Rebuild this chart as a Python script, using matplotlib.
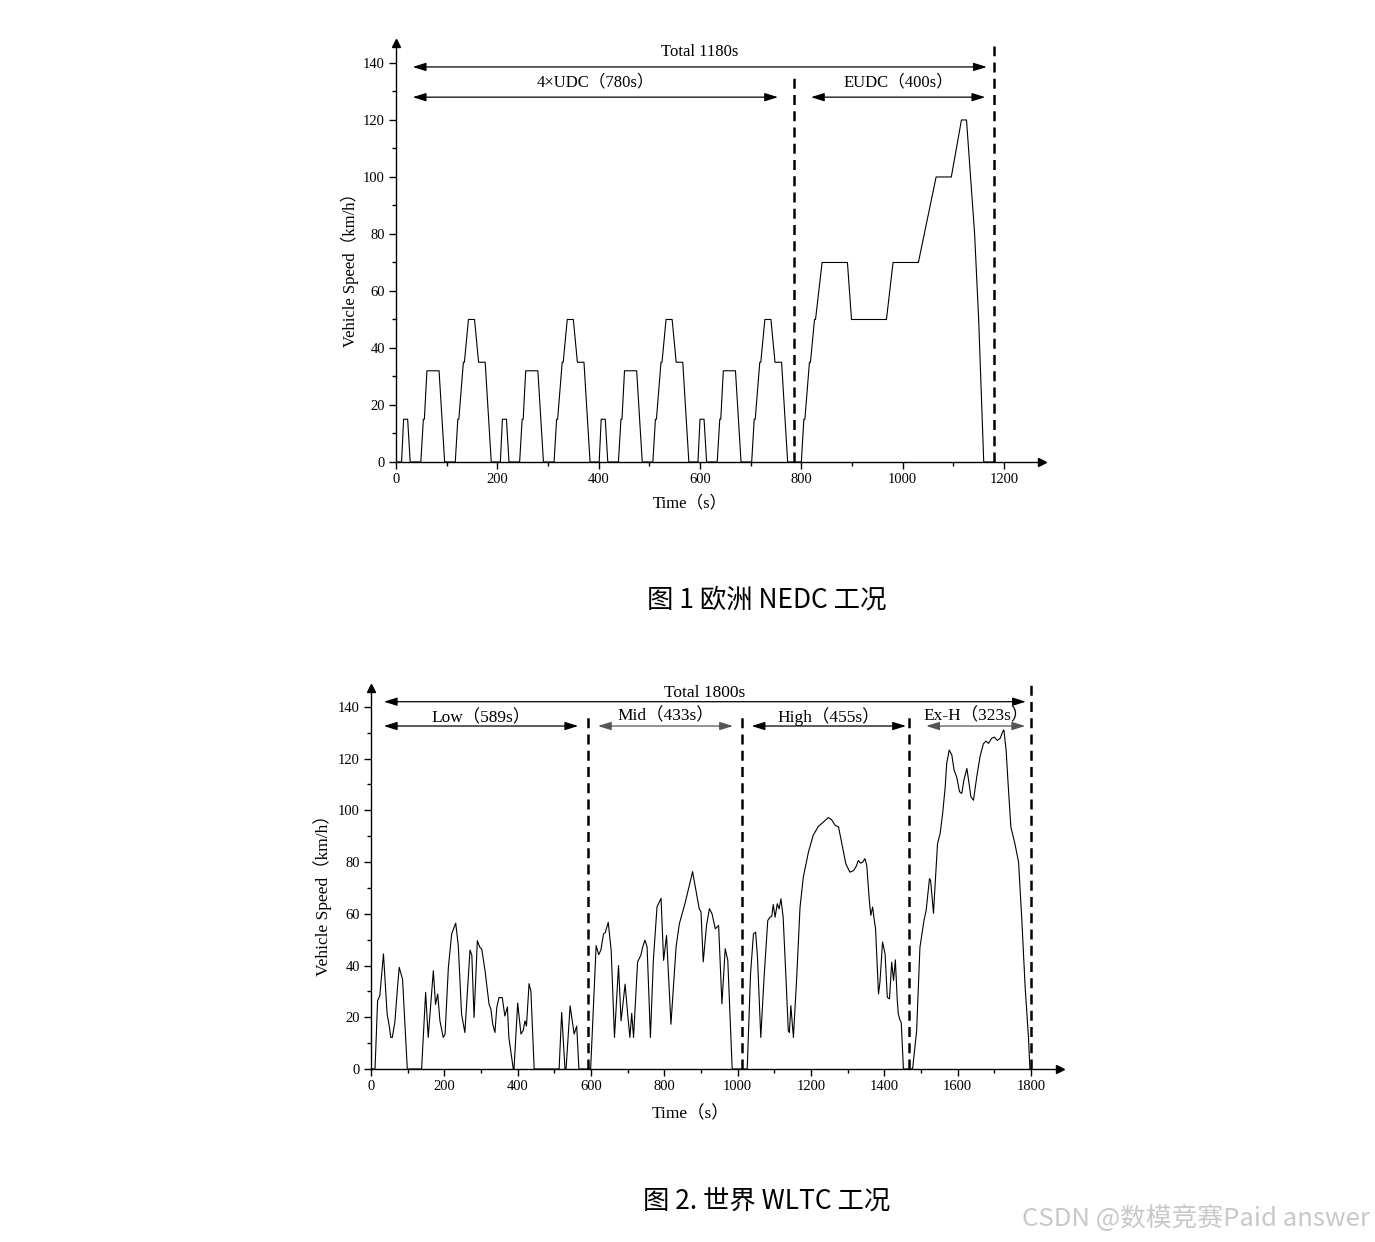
import matplotlib.pyplot as plt
import numpy as np

plt.rcParams['font.family'] = ['Liberation Serif', 'Noto Sans CJK SC']

# NEDC: one urban (UDC) cycle, repeated 4 times, then the extra-urban part
udc_time = [0, 11, 15, 23, 28, 49, 54, 56, 61, 85, 96, 117, 122, 124, 133, 135, 143, 155, 163, 176, 188, 195]
udc_speed = [0, 0, 15, 15, 0, 0, 15, 15, 32, 32, 0, 0, 15, 15, 35, 35, 50, 50, 35, 35, 0, 0]
eudc_time = [0, 20, 25, 27, 36, 38, 46, 48, 61, 111, 119, 188, 201, 251, 286, 316, 336, 346, 362, 370, 380, 400]
eudc_speed = [0, 0, 15, 15, 35, 35, 50, 50, 70, 70, 50, 50, 70, 70, 100, 100, 120, 120, 80, 50, 0, 0]

# WLTC speed trace
wltc_time = [0, 11, 18, 24, 34, 44, 49, 54, 58, 65, 73, 77, 86, 99, 138, 149, 156, 170, 176, 182,
             188, 197, 202, 211, 220, 231, 238, 247, 256, 270, 275, 281, 290, 297, 302, 311, 322,
             327, 332, 338, 343, 349, 358, 365, 372, 376, 388, 390, 400, 409, 415, 420, 424, 431,
             436, 445, 513, 520, 529, 532, 543, 549, 554, 561, 567, 599,
             614, 621, 627, 634, 639, 647, 655, 664, 675, 682, 693, 700, 706, 711, 716, 727, 736,
             741, 747, 753, 762, 770, 780, 791, 798, 806, 818, 832, 841, 855, 865, 877, 886, 895,
             900, 906, 915, 923, 930, 939, 948, 957, 966, 973, 985, 1026,
             1035, 1043, 1049, 1054, 1063, 1072, 1082, 1088, 1093, 1097, 1102, 1108, 1113, 1118,
             1124, 1132, 1138, 1141, 1145, 1152, 1161, 1170, 1179, 1193, 1206, 1220, 1234, 1247,
             1256, 1266, 1275, 1284, 1295, 1306, 1316, 1323, 1329, 1335, 1341, 1347, 1352, 1359,
             1363, 1368, 1372, 1376, 1384, 1388, 1395, 1402, 1408, 1414, 1420, 1425, 1430, 1435,
             1438, 1443, 1446, 1452, 1477,
             1488, 1497, 1508, 1514, 1523, 1526, 1534, 1538, 1545, 1552, 1559, 1566, 1570, 1577,
             1584, 1590, 1597, 1605, 1611, 1617, 1625, 1631, 1636, 1643, 1652, 1661, 1670, 1677,
             1684, 1693, 1700, 1708, 1716, 1723, 1726, 1732, 1738, 1745, 1756, 1766, 1775, 1784,
             1793, 1797, 1800]
wltc_speed = [0, 0, 26.4, 28.3, 44.5, 21.2, 17.3, 12.2, 12.2, 18, 32.8, 39.3, 34.7, 0, 0, 29.6, 12.2, 38, 25, 29,
              18.6, 12.2, 13.5, 39.3, 52.2, 56.4, 47.7, 21.2, 14.1, 46, 44, 19.9, 49.6, 47, 46.4, 38, 25,
              23.1, 17.3, 14.1, 23.8, 27.6, 27.6, 20.5, 24, 12.2, 0, 0, 25.5, 13.5, 14.9, 18.6, 16.6, 33,
              30.2, 0, 0, 21.9, 0, 0, 24.4, 18.6, 13.5, 16.6, 0, 0,
              47.7, 44.2, 46, 52.2, 52.8, 56.7, 45.8, 12.2, 40, 18.6, 32.8, 21.2, 12.2, 21.5, 12.2, 41.4, 44,
              47.2, 49.8, 47.2, 12.2, 42, 62.7, 66, 42, 51.6, 17.3, 47.2, 56.2, 63.3, 69.1, 76.3, 69.1, 62,
              60.7, 41.4, 55.5, 62, 60, 54.2, 55.5, 25.2, 46.5, 42, 0, 0,
              36.7, 52.2, 52.9, 43.2, 12.2, 35.5, 57.4, 58.7, 59, 63.6, 58.7, 63.9, 61.9, 65.8,
              58.7, 34.2, 14.8, 14.1, 24.5, 12.2, 35.5, 62.5, 74.2, 83.9, 90.4, 93.8, 95.5, 97.2,
              96.4, 94.2, 93.6, 87.1, 79.3, 76.1, 76.7, 78.3, 80.6, 79.6, 80, 81.3, 78.7, 65.2,
              59.4, 62.6, 58.1, 54.2, 29, 33.6, 49.1, 44.5, 27.7, 27.1, 41.3, 34.2, 42.2, 27.1,
              21.3, 18.7, 18, 0, 0,
              14.7, 47, 57.4, 61.3, 73.6, 73, 60.2, 70.3, 87.1, 91, 98.8, 109.2, 118.2, 123.3,
              121.4, 115.6, 113, 107.2, 106.5, 111.7, 116.2, 110.4, 105.2, 103.9, 113, 120.8, 125.7, 126.8,
              125.9, 127.9, 128.3, 127, 127.9, 130.5, 131.1, 123.3, 109.1, 93.6, 87.1, 80, 57.4, 31.5,
              12.2, 0, 0]

# phase annotations: (label, start, end)
nedc_phases = [('4×UDC（780s）', 33, 754), ('EUDC（400s）', 819, 1163)]
nedc_total = ('Total 1180s', 33, 1166)
nedc_bounds = [785, 1180]
wltc_phases = [('Low（589s）', 35, 565), ('Mid（433s）', 619, 987),
               ('High（455s）', 1038, 1459), ('Ex-H（323s）', 1514, 1784)]
wltc_total = ('Total 1800s', 35, 1786)
wltc_bounds = [592, 1012, 1466, 1800]

nedc_t = []
nedc_v = []
for k in range(4):
    nedc_t += [t + 195 * k for t in udc_time]
    nedc_v += udc_speed
nedc_t += [t + 780 for t in eudc_time]
nedc_v += eudc_speed

W, H = 1375, 1242
fig = plt.figure(figsize=(W / 100, H / 100), dpi=100)


def style_axis(ax, xmax, ymax, xticks):
    ax.set_xlim(0, xmax)
    ax.set_ylim(0, ymax)
    for s in ['top', 'right']:
        ax.spines[s].set_visible(False)
    ax.spines['left'].set_linewidth(1.0)
    ax.spines['bottom'].set_linewidth(1.0)
    ax.set_xticks(xticks)
    ax.set_xticks(np.arange(100, xticks[-1] + 1, 200), minor=True)
    ax.set_yticks(np.arange(0, 141, 20))
    ax.set_yticks(np.arange(10, 140, 20), minor=True)
    ax.tick_params(which='major', direction='out', length=5, width=1, labelsize=10.5, pad=3)
    ax.tick_params(which='minor', direction='out', length=3, width=1)
    ax.plot(1, 0, '>k', ms=6, transform=ax.get_yaxis_transform(), clip_on=False)
    ax.plot(0, 1, '^k', ms=6, transform=ax.get_xaxis_transform(), clip_on=False)


def arrow(ax, x0, x1, y, color='black'):
    ax.annotate('', xy=(x1, y), xytext=(x0, y),
                arrowprops=dict(arrowstyle='<|-|>,head_length=0.8,head_width=0.25',
                                color=color, lw=0.9, shrinkA=0, shrinkB=0))


# ---- NEDC ----
ax1 = fig.add_axes([396 / W, 1 - 462 / H, 646 / W, 419 / H])
style_axis(ax1, 1275, 147, np.arange(0, 1201, 200))
ax1.plot(nedc_t, nedc_v, color='black', lw=0.8)
ax1.vlines(nedc_bounds[0], 0, 136, colors='black', linestyles=(0, (4, 2.5)), lw=1.8)
ax1.vlines(nedc_bounds[1], 0, 146, colors='black', linestyles=(0, (4, 2.5)), lw=1.8, clip_on=False)
arrow(ax1, nedc_total[1], nedc_total[2], 138.6)
ax1.text((nedc_total[1] + nedc_total[2]) / 2, 144, nedc_total[0], ha='center', va='center', fontsize=12)
for (lab, a, b) in nedc_phases:
    arrow(ax1, a, b, 128)
    ax1.text((a + b) / 2, 133, lab, ha='center', va='center', fontsize=12)
ax1.text(0.455, -0.1, 'Time（s）', transform=ax1.transAxes, ha='center', va='center', fontsize=12)
ax1.text(-0.071, 0.468, 'Vehicle Speed（km/h）', transform=ax1.transAxes, ha='center', va='center',
         rotation=90, fontsize=12)

# ---- WLTC ----
ax2 = fig.add_axes([371 / W, 1 - 1069 / H, 689 / W, 381 / H])
style_axis(ax2, 1879, 147.3, np.arange(0, 1801, 200))
ax2.plot(wltc_time, wltc_speed, color='black', lw=0.8)
for b in wltc_bounds[:-1]:
    ax2.vlines(b, 0, 137.5, colors='black', linestyles=(0, (4, 2.5)), lw=1.8)
ax2.vlines(wltc_bounds[-1], 0, 149.5, colors='black', linestyles=(0, (4, 2.5)), lw=1.8, clip_on=False)
arrow(ax2, wltc_total[1], wltc_total[2], 142)
ax2.text((wltc_total[1] + wltc_total[2]) / 2, 145.5, wltc_total[0], ha='center', va='center', fontsize=12.5)
for i, (lab, a, b) in enumerate(wltc_phases):
    arrow(ax2, a, b, 132.6, color='black' if i % 2 == 0 else '#555555')
    ax2.text((a + b) / 2, 135.6 if i == 0 else 136.4, lab, ha='center', va='center', fontsize=12.5)
ax2.text(0.463, -0.118, 'Time（s）', transform=ax2.transAxes, ha='center', va='center', fontsize=12.5)
ax2.text(-0.071, 0.467, 'Vehicle Speed（km/h）', transform=ax2.transAxes, ha='center', va='center',
         rotation=90, fontsize=12.5)

# captions
fig.text(767 / W, 1 - 600 / H, '图 1 欧洲 NEDC 工况', ha='center', va='center', fontsize=19,
         family='Noto Sans CJK SC')
fig.text(767 / W, 1 - 1202 / H, '图 2. 世界 WLTC 工况', ha='center', va='center', fontsize=19,
         family='Noto Sans CJK SC')
fig.text(1370 / W, 1 - 1218 / H, 'CSDN @数模竞赛Paid answer', ha='right', va='center', fontsize=18.5,
         color='#c8c8c8', family='Noto Sans CJK SC')

fig.savefig('out.png', dpi=100)
